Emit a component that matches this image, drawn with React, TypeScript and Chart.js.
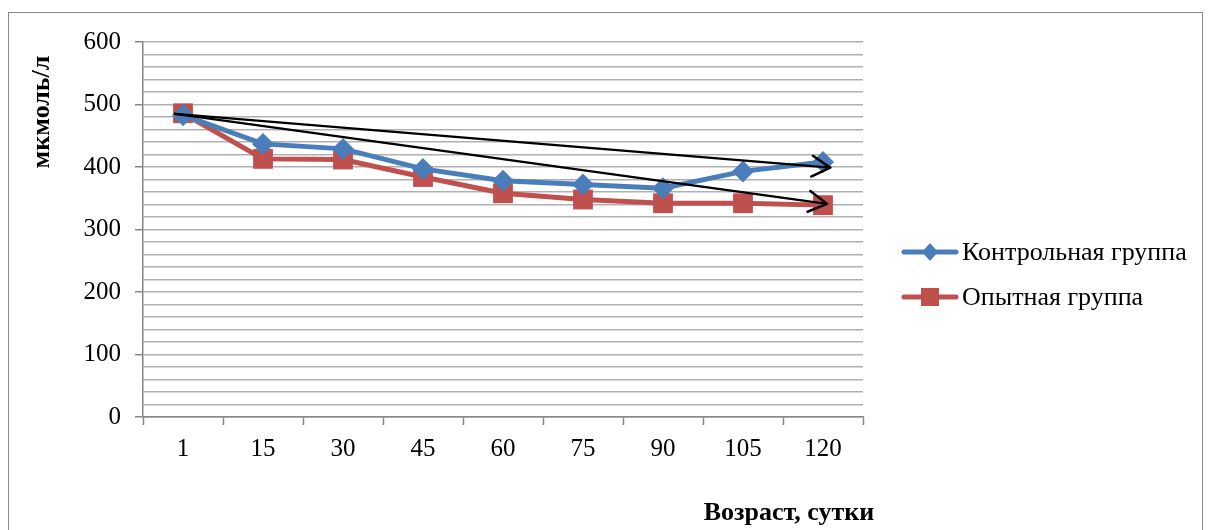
import React, { useEffect, useRef } from "react";
import { Chart, registerables } from "chart.js";

Chart.register(...registerables);

const categories = ["1", "15", "30", "45", "60", "75", "90", "105", "120"];
const controlValues = [483, 437, 429, 397, 378, 372, 366, 393, 408];
const experimentalValues = [486, 413, 412, 384, 358, 348, 342, 342, 339];
const seriesNames = ["Контрольная группа", "Опытная группа"];
const yTitle = "мкмоль/л";
const xTitle = "Возраст, сутки";

// trend arrows (category index, value)
const arrowStart = { index: -0.1, value: 485 };
const arrowEnds = [
  { index: 8.09, value: 399 },
  { index: 8.05, value: 341 },
];

const BLUE = "#4a7ebb";
const RED = "#c0504d";
const GRID = "#b0b0b0";
const AXIS = "#868686";
const FONT = "'Liberation Serif', 'Times New Roman', serif";

const decorPlugin = {
  id: "decor",
  afterDatasetsDraw(chart: any) {
    const ctx = chart.ctx;
    const xs = chart.scales.x;
    const ys = chart.scales.y;
    ctx.save();
    ctx.strokeStyle = "#000";
    ctx.lineWidth = 2.5;
    ctx.lineCap = "round";
    ctx.lineJoin = "round";
    const sx = xs.getPixelForValue(arrowStart.index);
    const sy = ys.getPixelForValue(arrowStart.value);
    arrowEnds.forEach((e) => {
      const ex = xs.getPixelForValue(e.index);
      const ey = ys.getPixelForValue(e.value);
      ctx.beginPath();
      ctx.moveTo(sx, sy);
      ctx.lineTo(ex, ey);
      ctx.stroke();
      const ang = Math.atan2(ey - sy, ex - sx);
      const len = 21;
      const spread = 0.52;
      ctx.beginPath();
      ctx.moveTo(ex - len * Math.cos(ang - spread), ey - len * Math.sin(ang - spread));
      ctx.lineTo(ex, ey);
      ctx.lineTo(ex - len * Math.cos(ang + spread), ey - len * Math.sin(ang + spread));
      ctx.stroke();
    });
    ctx.restore();
  },
  afterDraw(chart: any) {
    const ctx = chart.ctx;
    ctx.save();
    // outer frame
    ctx.strokeStyle = "#898989";
    ctx.lineWidth = 1;
    ctx.strokeRect(8.5, 12.5, 1194, 540);

    // legend
    const items = [
      { y: 252, color: BLUE, marker: "diamond", label: seriesNames[0] },
      { y: 297, color: RED, marker: "square", label: seriesNames[1] },
    ];
    items.forEach((it) => {
      ctx.strokeStyle = it.color;
      ctx.lineWidth = 5;
      ctx.lineCap = "round";
      ctx.beginPath();
      ctx.moveTo(904, it.y);
      ctx.lineTo(956, it.y);
      ctx.stroke();
      ctx.fillStyle = it.color;
      const cx = 930;
      if (it.marker === "diamond") {
        ctx.beginPath();
        ctx.moveTo(cx, it.y - 9);
        ctx.lineTo(cx + 8, it.y);
        ctx.lineTo(cx, it.y + 9);
        ctx.lineTo(cx - 8, it.y);
        ctx.closePath();
        ctx.fill();
      } else {
        ctx.fillRect(cx - 9, it.y - 9, 18, 18);
      }
      ctx.fillStyle = "#000";
      ctx.font = `26px ${FONT}`;
      ctx.textAlign = "left";
      ctx.textBaseline = "middle";
      ctx.fillText(it.label, 962, it.y + 1);
    });

    // axis titles
    ctx.fillStyle = "#000";
    ctx.font = `bold 26px ${FONT}`;
    ctx.textAlign = "center";
    ctx.textBaseline = "middle";
    ctx.save();
    ctx.translate(42, 112);
    ctx.rotate(-Math.PI / 2);
    ctx.fillText(yTitle, 0, 0);
    ctx.restore();
    ctx.fillText(xTitle, 789, 513);
    ctx.restore();
  },
};

export default function App() {
  const ref = useRef<HTMLCanvasElement>(null);
  useEffect(() => {
    document.body.style.margin = "0";
    if (!ref.current) return;
    const chart = new Chart(ref.current, {
      type: "line",
      data: {
        labels: categories,
        datasets: [
          {
            label: seriesNames[0],
            data: controlValues,
            borderColor: BLUE,
            backgroundColor: BLUE,
            borderWidth: 5,
            pointStyle: "rectRot",
            pointRadius: 11,
            pointHoverRadius: 11,
            pointBorderWidth: 0,
            tension: 0,
          },
          {
            label: seriesNames[1],
            data: experimentalValues,
            borderColor: RED,
            backgroundColor: RED,
            borderWidth: 5,
            pointStyle: "rect",
            pointRadius: 14,
            pointHoverRadius: 14,
            pointBorderWidth: 0,
            tension: 0,
          },
        ],
      },
      options: {
        animation: false,
        responsive: false,
        devicePixelRatio: 1,
        layout: { padding: { left: 0, top: 42, right: 346, bottom: 0 } },
        plugins: {
          legend: { display: false },
          tooltip: { enabled: false },
        },
        scales: {
          x: {
            offset: true,
            grid: {
              display: true,
              offset: true,
              drawOnChartArea: false,
              drawTicks: true,
              tickLength: 8,
              tickColor: AXIS,
              tickWidth: 1.5,
              color: GRID,
            },
            border: { display: true, color: AXIS, width: 1.5 },
            ticks: {
              autoSkip: false,
              maxRotation: 0,
              padding: 9,
              color: "#000",
              font: { family: FONT, size: 25 },
            },
            afterFit: (s: any) => {
              s.height = 113;
            },
          },
          y: {
            min: 0,
            max: 600,
            grid: {
              color: GRID,
              lineWidth: 1.5,
              drawTicks: true,
              tickLength: 8,
              tickWidth: 1.5,
              tickColor: (c: any) =>
                c.tick && c.tick.value % 100 === 0 ? AXIS : "rgba(0,0,0,0)",
            },
            border: { display: true, color: AXIS, width: 1.5 },
            ticks: {
              stepSize: 20,
              autoSkip: false,
              padding: 14,
              color: "#000",
              font: { family: FONT, size: 25 },
              callback: (v: any) => (Number(v) % 100 === 0 ? String(v) : ""),
            },
            afterFit: (s: any) => {
              s.width = 143;
            },
          },
        },
      },
      plugins: [decorPlugin],
    });
    return () => chart.destroy();
  }, []);
  return <canvas ref={ref} width={1209} height={530} style={{ display: "block" }} />;
}
